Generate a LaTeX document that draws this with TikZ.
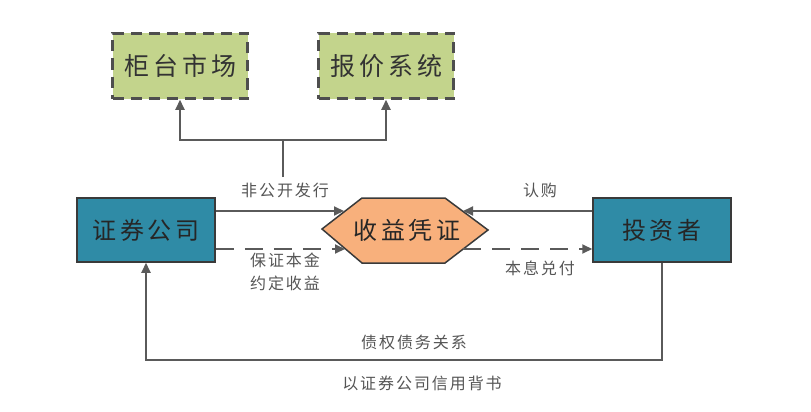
\documentclass[tikz,border=0pt]{standalone}
\usepackage{fontspec}
\setmainfont{Noto Sans CJK SC}
\newfontfamily\boxfnt[LetterSpace=16]{Noto Sans CJK SC}
\newfontfamily\lblfnt[LetterSpace=12]{Noto Sans CJK SC}
\usetikzlibrary{arrows.meta,calc}
\definecolor{boxblue}{HTML}{2F8BA6}
\definecolor{boxgreen}{HTML}{C3D48C}
\definecolor{hexorange}{HTML}{F8B07C}
\definecolor{edgedark}{HTML}{3A3A3A}
\definecolor{linegray}{HTML}{5A5A5A}
\definecolor{labelgray}{HTML}{555555}
\tikzset{
  bluebox/.style={draw=edgedark, line width=1.5pt, fill=boxblue, minimum width=138pt, minimum height=64pt, inner sep=0pt, font=\boxfnt\fontsize{24}{28}\selectfont, text=black!85},
  greenbox/.style={draw=edgedark!90, line width=2.5pt, dash pattern=on 11pt off 7pt, fill=boxgreen, minimum width=135pt, minimum height=65pt, inner sep=0pt, font=\boxfnt\fontsize{25}{29}\selectfont, text=black!80},
  conn/.style={draw=linegray, line width=2pt, -{Triangle[length=10pt,width=9pt]}},
  dconn/.style={conn, dash pattern=on 18pt off 11pt},
  plain/.style={draw=linegray, line width=2pt},
  lbl/.style={font=\lblfnt\fontsize{16}{23}\selectfont, text=labelgray, inner sep=1pt, align=center}
}
\begin{document}
\begin{tikzpicture}[x=1pt,y=-1pt]
\useasboundingbox (0,0) rectangle (811,412);
% top boxes
\node[greenbox] (gt) at (180,66) {柜台市场};
\node[greenbox] (bj) at (386,66) {报价系统};
% main boxes
\node[bluebox] (sec) at (146,230) {证券公司};
\node[bluebox] (inv) at (662,230) {投资者};
% hexagon
\coordinate (hL) at (322,229);
\coordinate (hTL) at (362,198);
\coordinate (hTR) at (445,198);
\coordinate (hR) at (488,230);
\coordinate (hBR) at (445,263);
\coordinate (hBL) at (362,263);
\draw[draw=edgedark, line width=1.5pt, fill=hexorange] (hL) -- (hTL) -- (hTR) -- (hR) -- (hBR) -- (hBL) -- cycle;
\node[font=\boxfnt\fontsize{24}{28}\selectfont, text=black!85] (hex) at (407,230) {收益凭证};
\coordinate (h1) at (344,211);
\coordinate (h2) at (345,249);
\coordinate (h3) at (463,211);
\coordinate (h4) at (463,249);
% stem to top boxes
\coordinate (stemtop) at (283,140);
\coordinate (stembot) at (283,177);
\draw[plain] (stembot) -- (stemtop);
\draw[conn] (stemtop) -| (gt.south);
\draw[conn] (stemtop) -| (bj.south);
% sec -> hex
\draw[conn] ($(sec.east)+(0,-19)$) -- (h1);
\draw[dconn] ($(sec.east)+(0,19)$) -- (h2);
% inv -> hex, hex -> inv
\draw[conn] ($(inv.west)+(0,-19)$) -- (h3);
\draw[dconn] (h4) -- ($(inv.west)+(0,19)$);
% bottom loop
\coordinate (botrow) at (0,360);
\draw[conn] (inv.south) |- (botrow -| sec.south) -- (sec.south);
% labels
\node[lbl] (l1) at (285,190) {非公开发行};
\node[lbl] (l2) at (285,272) {保证本金\\约定收益};
\node[lbl] (l3) at (540,190) {认购};
\node[lbl] (l4) at (540,268) {本息兑付};
\node[lbl] (l5) at (414,342) {债权债务关系};
\node[lbl] (l6) at (422,383) {以证券公司信用背书};
\end{tikzpicture}
\end{document}
